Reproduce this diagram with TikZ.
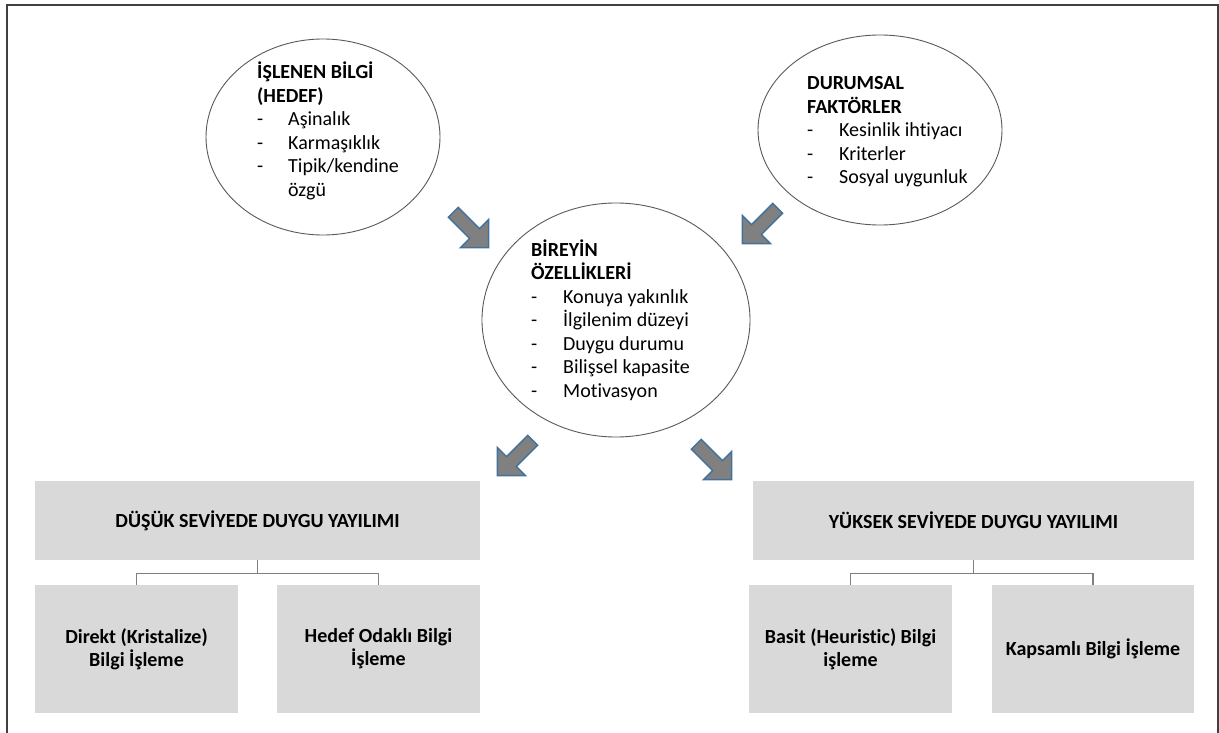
\documentclass[tikz,border=0pt]{standalone}
\usepackage{fontspec}
\setmainfont{Carlito}[Ligatures=NoCommon]
\usetikzlibrary{shapes.geometric}
\definecolor{boxgray}{HTML}{D9D9D9}
\definecolor{arrgray}{HTML}{808080}
\definecolor{arrblue}{HTML}{41719C}
\definecolor{framegray}{HTML}{404040}
\definecolor{linegray}{HTML}{7F7F7F}
\definecolor{ellgray}{HTML}{595959}
\begin{document}
\begin{tikzpicture}[x=1pt,y=-1pt,
  bubble/.style={ellipse, draw=ellgray, line width=0.9pt, inner sep=0pt},
  bubbletext/.style={anchor=base west, inner sep=0pt, font=\fontsize{20}{23.5}\selectfont},
  boxtitle/.style={rectangle, fill=boxgray, inner sep=0pt, minimum height=79pt, font=\fontsize{20}{24}\selectfont\bfseries, align=center},
  childbox/.style={rectangle, fill=boxgray, inner sep=0pt, minimum width=203pt, minimum height=128pt, font=\fontsize{20}{23}\selectfont\bfseries, align=center},
  tree/.style={draw=linegray, line width=1.2pt},
  blockarrow/.pic={\draw[fill=arrgray, draw=arrblue, line width=1.5pt, line join=miter] (-25,-7) -- (5,-7) -- (5,-20) -- (25,0) -- (5,20) -- (5,7) -- (-25,7) -- cycle;},
]
\useasboundingbox (0,0) rectangle (1219,733);
\draw[framegray, line width=2pt] (7,733) -- (7,5) -- (1218,5) -- (1218,733);

% ellipses
\node[bubble, minimum width=234pt, minimum height=196pt] (e1) at (323,137) {};
\node[bubble, minimum width=244pt, minimum height=190pt] (e2) at (880,130) {};
\node[bubble, minimum width=268pt, minimum height=234pt] (e3) at (616,320) {};

\node[bubbletext] (t1) at (257,79) {\begin{tabular}[t]{@{}p{31pt}@{}l@{}}
\multicolumn{2}{@{}l@{}}{\bfseries İŞLENEN BİLGİ}\\
\multicolumn{2}{@{}l@{}}{\bfseries (HEDEF)}\\
- & Aşinalık\\
- & Karmaşıklık\\
- & Tipik/kendine\\
  & özgü
\end{tabular}};

\node[bubbletext] (t2) at (807,90) {\begin{tabular}[t]{@{}p{32pt}@{}l@{}}
\multicolumn{2}{@{}l@{}}{\bfseries DURUMSAL}\\
\multicolumn{2}{@{}l@{}}{\bfseries FAKTÖRLER}\\
- & Kesinlik ihtiyacı\\
- & Kriterler\\
- & Sosyal uygunluk
\end{tabular}};

\node[bubbletext] (t3) at (531,256) {\begin{tabular}[t]{@{}p{32pt}@{}l@{}}
\multicolumn{2}{@{}l@{}}{\bfseries BİREYİN}\\
\multicolumn{2}{@{}l@{}}{\bfseries ÖZELLİKLERİ}\\
- & Konuya yakınlık\\
- & İlgilenim düzeyi\\
- & Duygu durumu\\
- & Bilişsel kapasite\\
- & Motivasyon
\end{tabular}};

% block arrows
\pic[rotate=-45] (a1) at (471,230) {blockarrow};
\pic[rotate=-135] (a2) at (760,226) {blockarrow};
\pic[rotate=-135] (a3) at (515,458) {blockarrow};
\pic[rotate=-45] (a4) at (714,462) {blockarrow};

% boxes
\node[boxtitle, minimum width=445pt] (lt) at (257.5,520.5) {DÜŞÜK SEVİYEDE DUYGU YAYILIMI};
\node[childbox] (lc1) at (136.5,649) {Direkt (Kristalize)\\Bilgi İşleme};
\node[childbox] (lc2) at (378.5,649) {Hedef Odaklı Bilgi\\İşleme};
\node[boxtitle, minimum width=441pt] (rt) at (973.5,520.5) {YÜKSEK SEVİYEDE DUYGU YAYILIMI};
\node[childbox] (rc1) at (850.5,649) {Basit (Heuristic) Bilgi\\işleme};
\node[childbox, minimum width=202pt] (rc2) at (1093,649) {Kapsamlı Bilgi İşleme};

% tree connectors
\draw[tree] (lt.south) -- ++(0,13) -| (lc1.north);
\draw[tree] (lt.south) -- ++(0,13) -| (lc2.north);
\draw[tree] (rt.south) -- ++(0,13) -| (rc1.north);
\draw[tree] (rt.south) -- ++(0,13) -| (rc2.north);
\end{tikzpicture}
\end{document}
